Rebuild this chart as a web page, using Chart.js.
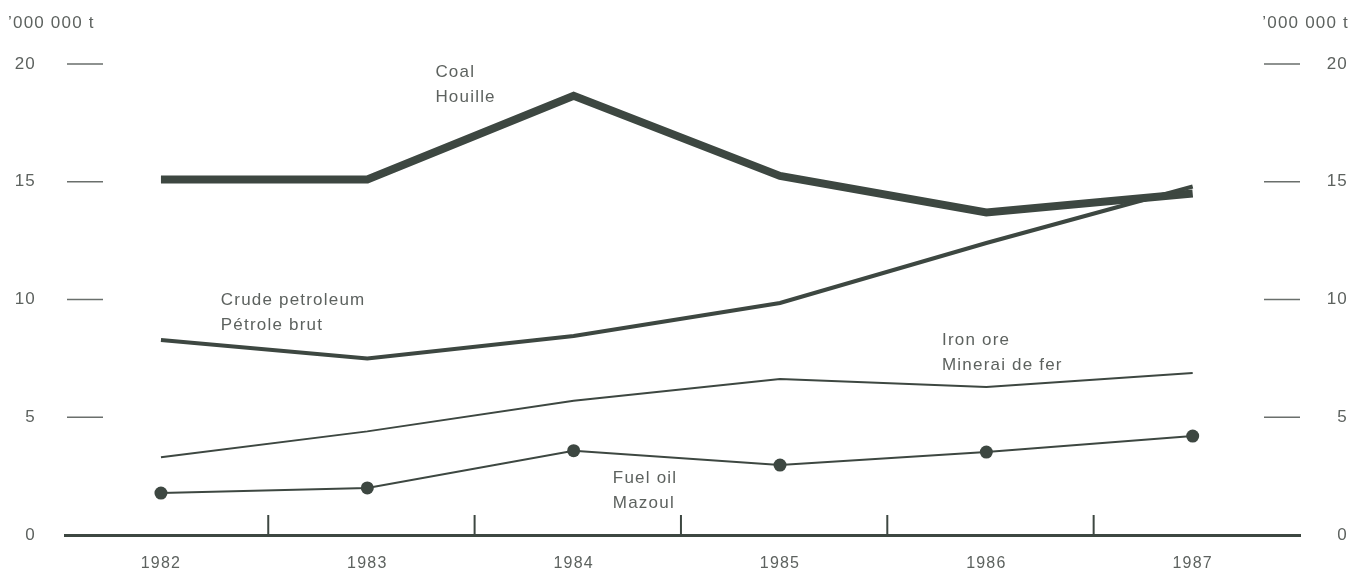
<!DOCTYPE html>
<html>
<head>
<meta charset="utf-8">
<script src="https://cdn.jsdelivr.net/npm/chart.js@4/dist/chart.umd.min.js"></script>
<style>
   body { margin: 0; background: #fff; }
   #app { width: 1355px; height: 571px; }
</style>
</head>
<body>
<div id="app"><canvas id="myChart" width="1355" height="571"></canvas></div>
<script>
const years = ['1982', '1983', '1984', '1985', '1986', '1987'];
const coal = [15.1, 15.1, 18.65, 15.25, 13.7, 14.5];
const crude = [8.28, 7.5, 8.45, 9.85, 12.4, 14.8];
const ironOre = [3.3, 4.4, 5.7, 6.62, 6.28, 6.88];
const fuelOil = [1.78, 2.0, 3.58, 2.97, 3.52, 4.2];
const yTicks = [0, 5, 10, 15, 20];
const unitLabel = '\u2019000 000 t';

// series names, placed near the lines (x = year index, y = value)
const notes = [
   { text: ['Coal', 'Houille'], x: 1.33, y: 19.65 },
   { text: ['Crude petroleum', 'P\u00e9trole brut'], x: 0.29, y: 9.98 },
   { text: ['Iron ore', 'Minerai de fer'], x: 3.785, y: 8.28 },
   { text: ['Fuel oil', 'Mazoul'], x: 2.19, y: 2.42 },
];

const ink = '#3d4741';
const textInk = '#5d625f';
const font = '"Liberation Sans", Arial, sans-serif';

function points(values) {
   return values.map((v, i) => ({ x: i, y: v }));
}

// the big tick padding of the left axis must not push the chart area around
function fitSide(width) {
   return s => {
      s.width = width;
      s.paddingTop = 10;
      s.paddingBottom = 10;
   };
}

const decorations = {
   id: 'decorations',
   beforeLayout(chart) {
      chart.ctx.letterSpacing = '1.2px';
   },
   beforeDraw(chart) {
      chart.ctx.letterSpacing = '1.2px';
   },
   afterDraw(chart) {
      const ctx = chart.ctx;
      const x = chart.scales.x;
      const y = chart.scales.y;
      const area = chart.chartArea;

      ctx.save();
      ctx.letterSpacing = '1.2px';

      // short dashes for the value ticks, both sides
      ctx.strokeStyle = '#6a6f6c';
      ctx.lineWidth = 1.5;
      yTicks.forEach(v => {
         if (v === 0) return;
         const py = y.getPixelForValue(v);
         ctx.beginPath();
         ctx.moveTo(area.left + 2, py);
         ctx.lineTo(area.left + 38, py);
         ctx.moveTo(area.right - 36, py);
         ctx.lineTo(area.right, py);
         ctx.stroke();
      });

      // tick marks between years, pointing up from the axis
      ctx.strokeStyle = ink;
      ctx.lineWidth = 2;
      for (let i = 0; i < years.length - 1; i++) {
         const px = x.getPixelForValue(i + 0.52);
         ctx.beginPath();
         ctx.moveTo(px, area.bottom);
         ctx.lineTo(px, area.bottom - 20);
         ctx.stroke();
      }

      // unit labels
      ctx.fillStyle = textInk;
      ctx.font = '17px ' + font;
      ctx.textBaseline = 'middle';
      ctx.textAlign = 'left';
      ctx.fillText(unitLabel, 8, 23);
      ctx.textAlign = 'right';
      ctx.fillText(unitLabel, 1349, 23);

      // series names
      ctx.textAlign = 'left';
      notes.forEach(n => {
         const px = x.getPixelForValue(n.x);
         const py = y.getPixelForValue(n.y);
         n.text.forEach((t, k) => ctx.fillText(t, px, py + k * 25));
      });

      ctx.restore();
   }
};

function line(label, values, width, radius) {
   return {
      label: label,
      data: points(values),
      borderColor: ink,
      backgroundColor: ink,
      borderWidth: width,
      pointRadius: radius,
      pointBorderWidth: 0,
      tension: 0,
      fill: false,
   };
}

const myChart = new Chart(document.getElementById('myChart').getContext('2d'), {
   type: 'line',
   data: {
      datasets: [
         line('Crude petroleum', crude, 4, 0),
         line('Coal', coal, 8, 0),
         line('Iron ore', ironOre, 2, 0),
         line('Fuel oil', fuelOil, 2, 6.5),
      ],
   },
   options: {
      responsive: false,
      animation: false,
      layout: { padding: { top: 64, right: 7, left: 0, bottom: 0 } },
      plugins: {
         legend: { display: false },
         tooltip: { enabled: false },
      },
      scales: {
         x: {
            type: 'linear',
            min: -0.465,
            max: 5.52,
            afterBuildTicks: s => { s.ticks = years.map((_, i) => ({ value: i })); },
            afterFit: s => { s.height = 36; },
            grid: { display: false, drawTicks: false },
            border: { display: true, width: 3, color: ink },
            ticks: {
               padding: 19,
               color: textInk,
               font: { family: font, size: 16 },
               maxRotation: 0,
               callback: (v) => years[v],
            },
         },
         y: {
            position: 'left',
            min: 0,
            max: 20,
            afterFit: fitSide(65),
            afterBuildTicks: s => { s.ticks = yTicks.map(v => ({ value: v })); },
            grid: { display: false, drawTicks: false },
            border: { display: false },
            ticks: { padding: 29, color: textInk, font: { family: font, size: 17 } },
         },
         y2: {
            position: 'right',
            min: 0,
            max: 20,
            afterFit: fitSide(48),
            afterBuildTicks: s => { s.ticks = yTicks.map(v => ({ value: v })); },
            grid: { display: false, drawTicks: false },
            border: { display: false },
            ticks: { crossAlign: 'far', color: textInk, font: { family: font, size: 17 } },
         },
      },
   },
   plugins: [decorations],
});
</script>
</body>
</html>
